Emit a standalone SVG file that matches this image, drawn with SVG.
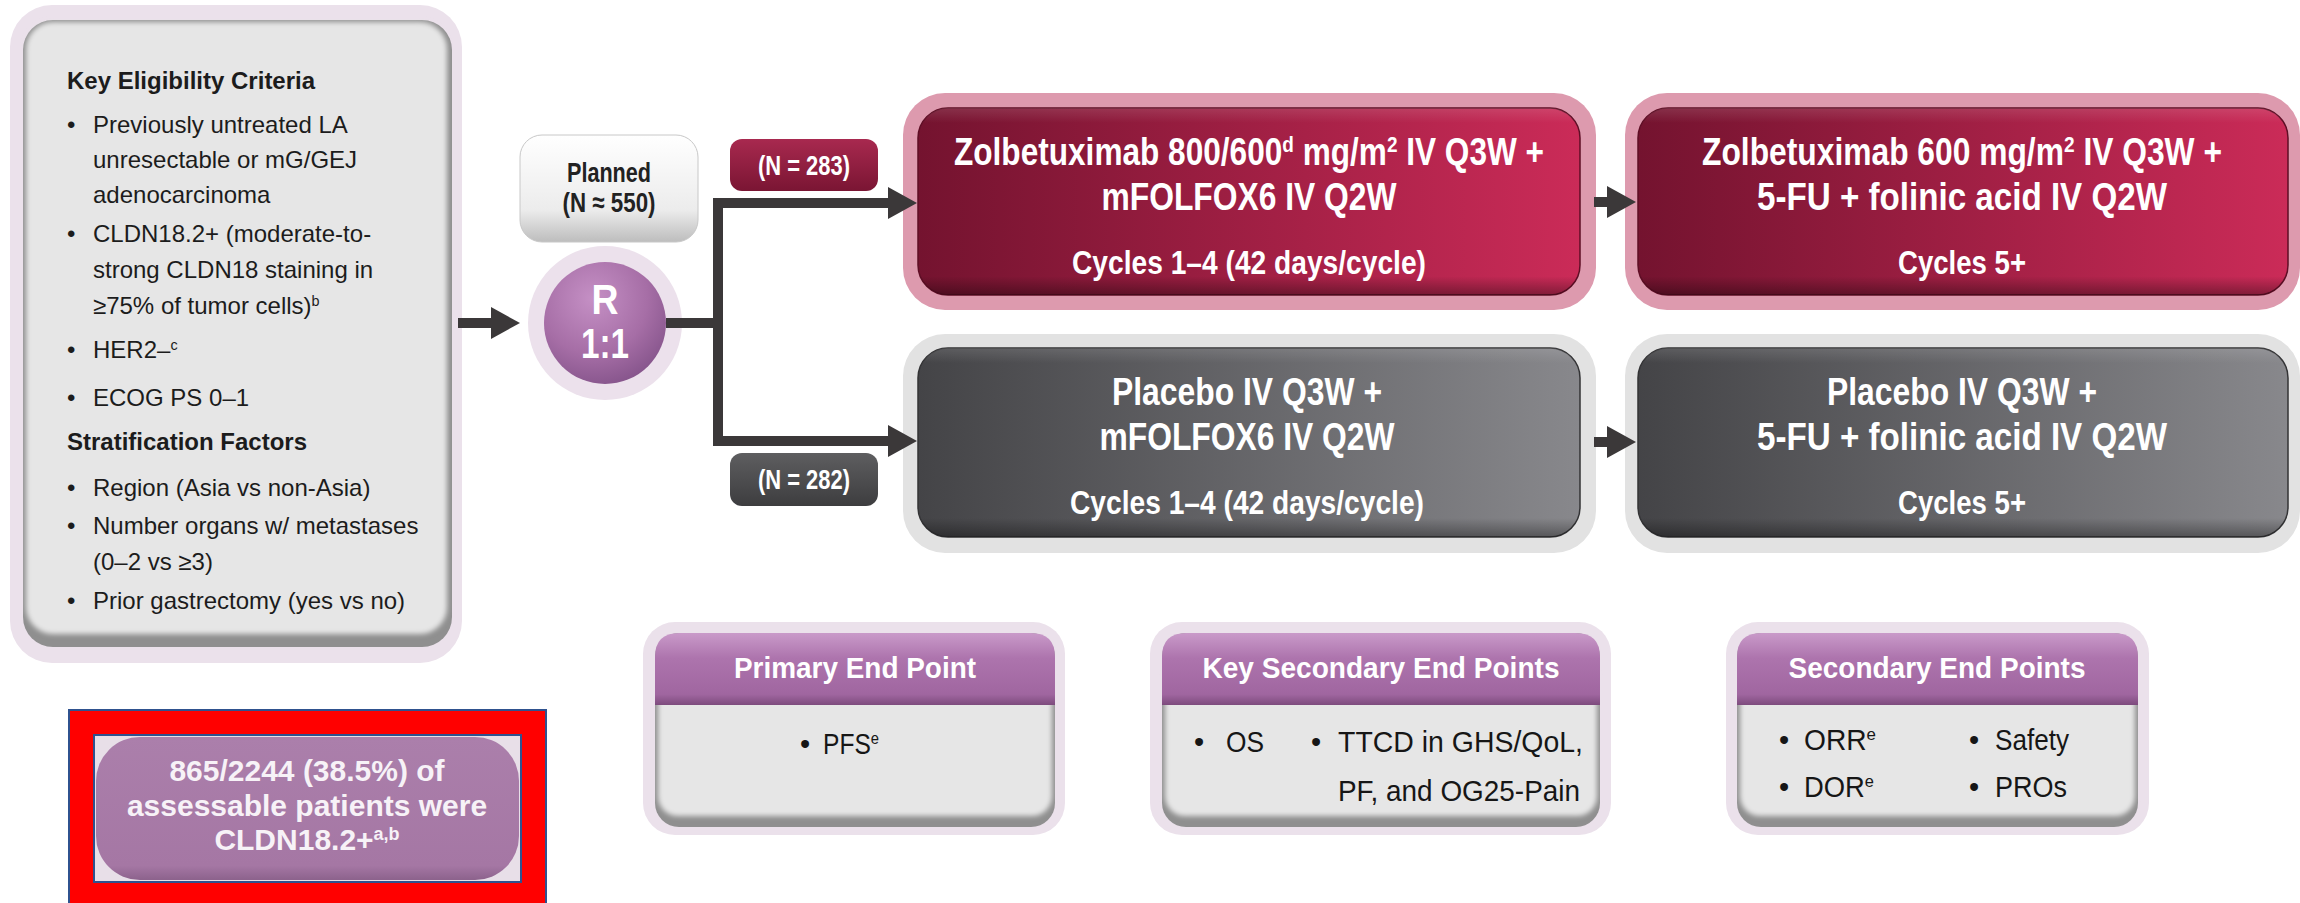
<svg xmlns="http://www.w3.org/2000/svg" width="2300" height="903" viewBox="0 0 2300 903">
  <defs>
    <style>
      .t { font-family: "Liberation Sans", Arial, Helvetica, sans-serif; }
      .b { font-weight: 700; }
      .mid { text-anchor: middle; }
      .list { font-size: 24px; fill: #1c1c1c; }
      .head { font-size: 38px; fill: #ffffff; font-weight: 700; }
      .cyc { font-size: 33px; fill: #ffffff; font-weight: 700; }
      .eph { font-size: 29px; fill: #ffffff; font-weight: 700; }
      .epb { font-size: 29px; fill: #161616; }
      .lbl { font-size: 28px; fill: #ffffff; font-weight: 700; }
      .sup { baseline-shift: super; font-size: 60%; }
      .halo-lav { fill: #ebe1eb; }
      .halo-red { fill: #dd9aae; }
      .halo-gry { fill: #e2e2e2; }
      .bevel-base { fill: #8f8f8f; }
      .bevel-face { fill: #e6e6e6; }
      .wire { fill: none; stroke: #3b3839; stroke-width: 10; stroke-linejoin: miter; }
    </style>
    <linearGradient id="redFace" x1="0" y1="0" x2="1" y2="0">
      <stop offset="0" stop-color="#74132f"/>
      <stop offset="1" stop-color="#cb2b58"/>
    </linearGradient>
    <linearGradient id="grayFace" x1="0" y1="0" x2="1" y2="0">
      <stop offset="0" stop-color="#444447"/>
      <stop offset="1" stop-color="#88888c"/>
    </linearGradient>
    <linearGradient id="edgeShade" x1="0" y1="0" x2="0" y2="1">
      <stop offset="0" stop-color="#ffffff" stop-opacity="0.12"/>
      <stop offset="0.08" stop-color="#ffffff" stop-opacity="0"/>
      <stop offset="0.9" stop-color="#000000" stop-opacity="0"/>
      <stop offset="1" stop-color="#000000" stop-opacity="0.35"/>
    </linearGradient>
    <linearGradient id="purpleHead" x1="0" y1="0" x2="0" y2="1">
      <stop offset="0" stop-color="#c99ac9"/>
      <stop offset="0.35" stop-color="#ad74ad"/>
      <stop offset="0.85" stop-color="#a066a0"/>
      <stop offset="1" stop-color="#7d4b7d"/>
    </linearGradient>
    <linearGradient id="plannedFace" x1="0" y1="0" x2="0" y2="1">
      <stop offset="0" stop-color="#ffffff"/>
      <stop offset="0.7" stop-color="#ececec"/>
      <stop offset="1" stop-color="#bdbdbd"/>
    </linearGradient>
    <linearGradient id="redTag" x1="0" y1="0" x2="0" y2="1">
      <stop offset="0" stop-color="#a8294f"/>
      <stop offset="1" stop-color="#7a1533"/>
    </linearGradient>
    <linearGradient id="grayTag" x1="0" y1="0" x2="0" y2="1">
      <stop offset="0" stop-color="#5e5e60"/>
      <stop offset="1" stop-color="#3d3d3f"/>
    </linearGradient>
    <radialGradient id="ballFace" cx="0.4" cy="0.3" r="0.75">
      <stop offset="0" stop-color="#c590c5"/>
      <stop offset="0.6" stop-color="#a66ea6"/>
      <stop offset="1" stop-color="#84538a"/>
    </radialGradient>
    <linearGradient id="pillFace" x1="0" y1="0" x2="0" y2="1">
      <stop offset="0" stop-color="#ab7fab"/>
      <stop offset="0.9" stop-color="#a577a4"/>
      <stop offset="1" stop-color="#8c628c"/>
    </linearGradient>
    <filter id="soft" x="-5%" y="-5%" width="110%" height="110%">
      <feGaussianBlur stdDeviation="2.5"/>
    </filter>
    <marker id="arrow" markerUnits="userSpaceOnUse" markerWidth="30" markerHeight="32" viewBox="0 0 30 32" refX="1" refY="16" orient="auto">
      <path d="M0,0 L29,16 L0,32 Z" fill="#3b3839"/>
    </marker>
  </defs>

  <rect width="2300" height="903" fill="#ffffff"/>

  <!-- eligibility and stratification panel -->
  <g id="eligibility">
    <rect class="halo-lav" x="10" y="5" width="452" height="658" rx="42"/>
    <rect class="bevel-base" x="23" y="20" width="429" height="627" rx="30"/>
    <rect class="bevel-face" x="26" y="22" width="421" height="612" rx="27" filter="url(#soft)"/>
    <g class="t list">
      <text class="b" x="67" y="89">Key Eligibility Criteria</text>
      <text x="67" y="132.5">•</text><text x="93" y="132.5">Previously untreated LA</text>
      <text x="93" y="167.5">unresectable or mG/GEJ</text>
      <text x="93" y="202.5">adenocarcinoma</text>
      <text x="67" y="241.5">•</text><text x="93" y="241.5">CLDN18.2+ (moderate-to-</text>
      <text x="93" y="277.5">strong CLDN18 staining in</text>
      <text x="93" y="313.5">≥75% of tumor cells)<tspan class="sup">b</tspan></text>
      <text x="67" y="357.5">•</text><text x="93" y="357.5">HER2–<tspan class="sup">c</tspan></text>
      <text x="67" y="405.5">•</text><text x="93" y="405.5">ECOG PS 0–1</text>
      <text class="b" x="67" y="449.5">Stratification Factors</text>
      <text x="67" y="495.5">•</text><text x="93" y="495.5">Region (Asia vs non-Asia)</text>
      <text x="67" y="533.5">•</text><text x="93" y="533.5">Number organs w/ metastases</text>
      <text x="93" y="569.5">(0–2 vs ≥3)</text>
      <text x="67" y="608.5">•</text><text x="93" y="608.5">Prior gastrectomy (yes vs no)</text>
    </g>
  </g>

  <!-- prevalence call-out in a red frame -->
  <g id="prevalence">
    <rect x="69" y="710" width="477" height="196" fill="#ff0000" stroke="#2f528f" stroke-width="2"/>
    <rect x="94" y="735" width="427" height="147" fill="#e8dfe8" stroke="#2f528f" stroke-width="2"/>
    <rect x="96" y="737" width="423" height="143" rx="44" fill="url(#pillFace)"/>
    <g class="t b mid" font-size="30" fill="#f7f2f7">
      <text x="307" y="781">865/2244 (38.5%) of</text>
      <text x="307" y="816">assessable patients were</text>
      <text x="307" y="850">CLDN18.2+<tspan class="sup">a,b</tspan></text>
    </g>
  </g>

  <!-- planned enrolment -->
  <g id="planned">
    <rect x="520" y="135" width="178" height="107" rx="22" fill="url(#plannedFace)" stroke="#c8c8c8" stroke-width="1"/>
    <g class="t b mid" font-size="28" fill="#222222">
      <text x="609" y="182" textLength="84" lengthAdjust="spacingAndGlyphs">Planned</text>
      <text x="609" y="212" textLength="93" lengthAdjust="spacingAndGlyphs">(N ≈ 550)</text>
    </g>
  </g>

  <!-- randomisation node -->
  <g id="randomisation">
    <circle cx="605" cy="323" r="77" fill="#ece1ec"/>
    <circle cx="605" cy="323" r="61" fill="url(#ballFace)"/>
    <g class="t b mid" font-size="42" fill="#ffffff">
      <text x="605" y="314" textLength="27" lengthAdjust="spacingAndGlyphs">R</text>
      <text x="605" y="358" textLength="48" lengthAdjust="spacingAndGlyphs">1:1</text>
    </g>
  </g>

  <!-- arm sizes -->
  <g id="n-zolbetuximab">
    <rect x="730" y="139" width="148" height="52" rx="12" fill="url(#redTag)"/>
    <text class="t lbl mid" x="804" y="175" textLength="92" lengthAdjust="spacingAndGlyphs">(N = 283)</text>
  </g>
  <g id="n-placebo">
    <rect x="730" y="453" width="148" height="53" rx="12" fill="url(#grayTag)"/>
    <text class="t lbl mid" x="804" y="489" textLength="92" lengthAdjust="spacingAndGlyphs">(N = 282)</text>
  </g>

  <!-- zolbetuximab arm, cycles 1-4 -->
  <g id="zolbetuximab-induction">
    <rect class="halo-red" x="903" y="93" width="693" height="217" rx="42"/>
    <rect x="918" y="108" width="662" height="187" rx="30" fill="url(#redFace)" stroke="#5e0e25" stroke-width="1.5"/>
    <rect x="918" y="108" width="662" height="187" rx="30" fill="url(#edgeShade)"/>
    <text class="t head mid" x="1249" y="165" textLength="590" lengthAdjust="spacingAndGlyphs">Zolbetuximab 800/600<tspan class="sup">d</tspan> mg/m<tspan class="sup">2</tspan> IV Q3W +</text>
    <text class="t head mid" x="1249" y="210" textLength="295" lengthAdjust="spacingAndGlyphs">mFOLFOX6 IV Q2W</text>
    <text class="t cyc mid" x="1249" y="274" textLength="354" lengthAdjust="spacingAndGlyphs">Cycles 1–4 (42 days/cycle)</text>
  </g>

  <!-- zolbetuximab arm, cycles 5+ -->
  <g id="zolbetuximab-maintenance">
    <rect class="halo-red" x="1625" y="93" width="675" height="217" rx="42"/>
    <rect x="1638" y="108" width="650" height="187" rx="30" fill="url(#redFace)" stroke="#5e0e25" stroke-width="1.5"/>
    <rect x="1638" y="108" width="650" height="187" rx="30" fill="url(#edgeShade)"/>
    <text class="t head mid" x="1962" y="165" textLength="520" lengthAdjust="spacingAndGlyphs">Zolbetuximab 600 mg/m<tspan class="sup">2</tspan> IV Q3W +</text>
    <text class="t head mid" x="1962" y="210" textLength="410" lengthAdjust="spacingAndGlyphs">5-FU + folinic acid IV Q2W</text>
    <text class="t cyc mid" x="1962" y="274" textLength="128" lengthAdjust="spacingAndGlyphs">Cycles 5+</text>
  </g>

  <!-- placebo arm, cycles 1-4 -->
  <g id="placebo-induction">
    <rect class="halo-gry" x="903" y="334" width="693" height="219" rx="42"/>
    <rect x="918" y="348" width="662" height="189" rx="30" fill="url(#grayFace)" stroke="#333335" stroke-width="1.5"/>
    <rect x="918" y="348" width="662" height="189" rx="30" fill="url(#edgeShade)"/>
    <text class="t head mid" x="1247" y="405" textLength="270" lengthAdjust="spacingAndGlyphs">Placebo IV Q3W +</text>
    <text class="t head mid" x="1247" y="450" textLength="295" lengthAdjust="spacingAndGlyphs">mFOLFOX6 IV Q2W</text>
    <text class="t cyc mid" x="1247" y="514" textLength="354" lengthAdjust="spacingAndGlyphs">Cycles 1–4 (42 days/cycle)</text>
  </g>

  <!-- placebo arm, cycles 5+ -->
  <g id="placebo-maintenance">
    <rect class="halo-gry" x="1625" y="334" width="675" height="219" rx="42"/>
    <rect x="1638" y="348" width="650" height="189" rx="30" fill="url(#grayFace)" stroke="#333335" stroke-width="1.5"/>
    <rect x="1638" y="348" width="650" height="189" rx="30" fill="url(#edgeShade)"/>
    <text class="t head mid" x="1962" y="405" textLength="270" lengthAdjust="spacingAndGlyphs">Placebo IV Q3W +</text>
    <text class="t head mid" x="1962" y="450" textLength="410" lengthAdjust="spacingAndGlyphs">5-FU + folinic acid IV Q2W</text>
    <text class="t cyc mid" x="1962" y="514" textLength="128" lengthAdjust="spacingAndGlyphs">Cycles 5+</text>
  </g>

  <!-- end point panels -->
  <g id="primary-end-point">
    <rect class="halo-lav" x="643" y="622" width="422" height="213" rx="32"/>
    <rect class="bevel-base" x="655" y="633" width="400" height="194" rx="24"/>
    <rect class="bevel-face" x="658" y="660" width="394" height="156" rx="20" filter="url(#soft)"/>
    <path d="M655,705 V657 Q655,633 679,633 H1031 Q1055,633 1055,657 V705 Z" fill="url(#purpleHead)"/>
    <text class="t eph mid" x="855" y="678" textLength="242" lengthAdjust="spacingAndGlyphs">Primary End Point</text>
    <text class="t epb" x="800" y="754">•</text>
    <text class="t epb" x="823" y="754" textLength="56" lengthAdjust="spacingAndGlyphs">PFS<tspan class="sup">e</tspan></text>
  </g>

  <g id="key-secondary-end-points">
    <rect class="halo-lav" x="1150" y="622" width="461" height="213" rx="32"/>
    <rect class="bevel-base" x="1162" y="633" width="438" height="194" rx="24"/>
    <rect class="bevel-face" x="1165" y="660" width="432" height="156" rx="20" filter="url(#soft)"/>
    <path d="M1162,705 V657 Q1162,633 1186,633 H1576 Q1600,633 1600,657 V705 Z" fill="url(#purpleHead)"/>
    <text class="t eph mid" x="1381" y="678" textLength="357" lengthAdjust="spacingAndGlyphs">Key Secondary End Points</text>
    <text class="t epb" x="1194" y="752">•</text>
    <text class="t epb" x="1226" y="752" textLength="38" lengthAdjust="spacingAndGlyphs">OS</text>
    <text class="t epb" x="1311" y="752">•</text>
    <text class="t epb" x="1338" y="752" textLength="245" lengthAdjust="spacingAndGlyphs">TTCD in GHS/QoL,</text>
    <text class="t epb" x="1338" y="801" textLength="242" lengthAdjust="spacingAndGlyphs">PF, and OG25-Pain</text>
  </g>

  <g id="secondary-end-points">
    <rect class="halo-lav" x="1726" y="622" width="423" height="213" rx="32"/>
    <rect class="bevel-base" x="1737" y="633" width="401" height="194" rx="24"/>
    <rect class="bevel-face" x="1740" y="660" width="395" height="156" rx="20" filter="url(#soft)"/>
    <path d="M1737,705 V657 Q1737,633 1761,633 H2114 Q2138,633 2138,657 V705 Z" fill="url(#purpleHead)"/>
    <text class="t eph mid" x="1937" y="678" textLength="297" lengthAdjust="spacingAndGlyphs">Secondary End Points</text>
    <text class="t epb" x="1779" y="750">•</text>
    <text class="t epb" x="1804" y="750" textLength="72" lengthAdjust="spacingAndGlyphs">ORR<tspan class="sup">e</tspan></text>
    <text class="t epb" x="1969" y="750">•</text>
    <text class="t epb" x="1995" y="750" textLength="74" lengthAdjust="spacingAndGlyphs">Safety</text>
    <text class="t epb" x="1779" y="797">•</text>
    <text class="t epb" x="1804" y="797" textLength="70" lengthAdjust="spacingAndGlyphs">DOR<tspan class="sup">e</tspan></text>
    <text class="t epb" x="1969" y="797">•</text>
    <text class="t epb" x="1995" y="797" textLength="72" lengthAdjust="spacingAndGlyphs">PROs</text>
  </g>

  <!-- flow connectors -->
  <g id="connectors">
    <path class="wire" d="M458,323 H492" marker-end="url(#arrow)"/>
    <path class="wire" d="M666,323 H718 V203 H889" marker-end="url(#arrow)"/>
    <path class="wire" d="M713,323 H718 V441 H889" marker-end="url(#arrow)"/>
    <path class="wire" d="M1594,202 H1608" marker-end="url(#arrow)"/>
    <path class="wire" d="M1594,442 H1608" marker-end="url(#arrow)"/>
  </g>
</svg>
